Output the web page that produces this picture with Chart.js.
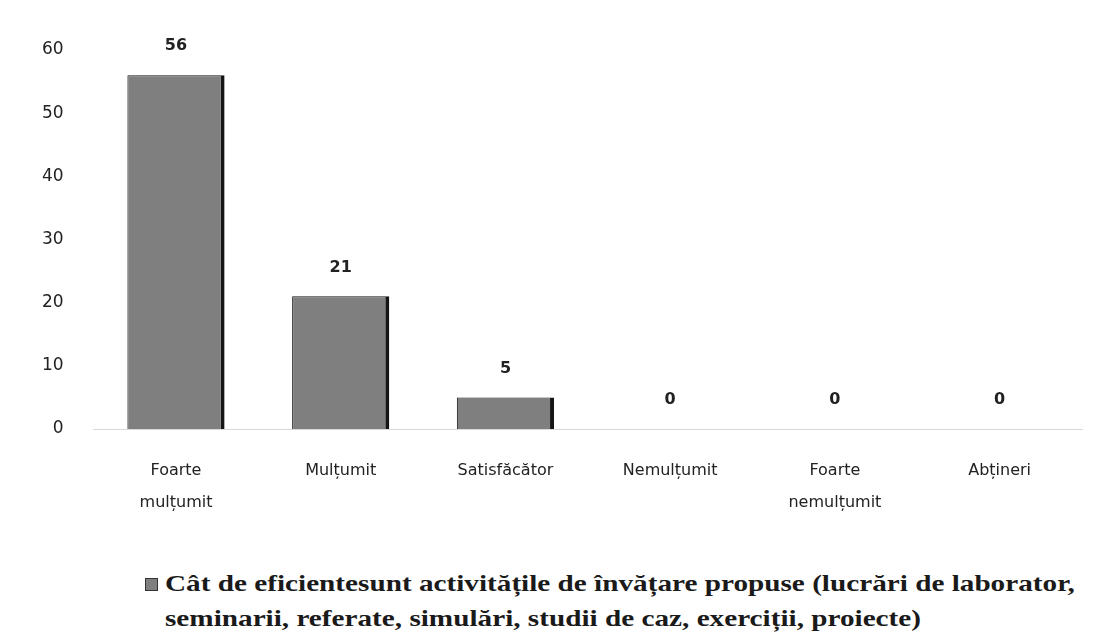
<!DOCTYPE html>
<html>
<head>
<meta charset="utf-8">
<script src="https://cdn.jsdelivr.net/npm/chart.js@4.4.1/dist/chart.umd.min.js"></script>
<style>
  html, body { margin: 0; padding: 0; background: #fff; }
  #wrap { position: relative; width: 1102px; height: 639px; }
  #box { position: absolute; left: 0; top: 0; width: 1102px; height: 537px; }
  #legend {
    position: absolute; left: 145px; top: 566px; width: 1000px;
    font-family: "Liberation Serif", serif; font-weight: bold; font-size: 23px;
    line-height: 35px; color: #1a1a1a; white-space: nowrap;
  }
  #legend .sw {
    position: absolute; left: 0; top: 12px;
    width: 11px; height: 11px; background: #7f7f7f; border: 1px solid #333;
  }
  #legend .txt {
    position: absolute; left: 20px; top: 0;
    transform: scaleX(1.27); transform-origin: left top;
  }
</style>
</head>
<body>
<div id="wrap">
  <div id="box"><canvas id="chart"></canvas></div>
  <div id="legend"></div>
</div>
<script>
// categories and values
const categories = [
  ['Foarte', 'mulțumit'],
  'Mulțumit',
  'Satisfăcător',
  'Nemulțumit',
  ['Foarte', 'nemulțumit'],
  'Abțineri'
];
const values = [56, 21, 5, 0, 0, 0];
const seriesName = [
  'Cât de eficientesunt activitățile de învățare propuse (lucrări de laborator,',
  'seminarii, referate, simulări, studii de caz, exerciții, proiecte)'
];
const yTicks = [0, 10, 20, 30, 40, 50, 60];

// value labels above each bar
const valueLabels = {
  id: 'valueLabels',
  afterDatasetsDraw(chart) {
    const ctx = chart.ctx;
    const meta = chart.getDatasetMeta(0);
    ctx.save();
    ctx.font = 'bold 16px "DejaVu Sans", sans-serif';
    ctx.fillStyle = '#222';
    ctx.textAlign = 'center';
    ctx.textBaseline = 'middle';
    meta.data.forEach((bar, i) => {
      ctx.fillText(String(values[i]), bar.x, bar.y - 29);
    });
    ctx.restore();
  }
};

document.getElementById('legend').innerHTML =
  '<span class="sw"></span><span class="txt">' + seriesName.join('<br>') + '</span>';

new Chart(document.getElementById('chart').getContext('2d'), {
  type: 'bar',
  data: {
    labels: categories,
    datasets: [{
      label: seriesName.join(' '),
      data: values,
      backgroundColor: '#7f7f7f',
      borderColor: '#151515',
      borderWidth: { left: 1, right: 4, top: 1, bottom: 0 },
      borderSkipped: false,
      barPercentage: 0.59,
      categoryPercentage: 1
    }]
  },
  options: {
    responsive: true,
    maintainAspectRatio: false,
    animation: false,
    layout: { padding: { left: 20, right: 20, top: 50, bottom: 0 } },
    plugins: { legend: { display: false }, tooltip: { enabled: false } },
    scales: {
      x: {
        grid: { display: false },
        border: { display: true, color: '#d9d9d9', width: 1 },
        ticks: {
          color: '#222', padding: 18, maxRotation: 0, autoSkip: false,
          font: { family: '"DejaVu Sans", sans-serif', size: 16, lineHeight: 2.0 }
        }
      },
      y: {
        min: 0, max: 60,
        afterBuildTicks: axis => { axis.ticks = yTicks.map(v => ({ value: v })); },
        grid: { display: false },
        border: { display: false },
        ticks: {
          color: '#222', padding: 22,
          font: { family: '"DejaVu Sans", sans-serif', size: 17 }
        }
      }
    }
  },
  plugins: [valueLabels]
});
</script>
</body>
</html>
